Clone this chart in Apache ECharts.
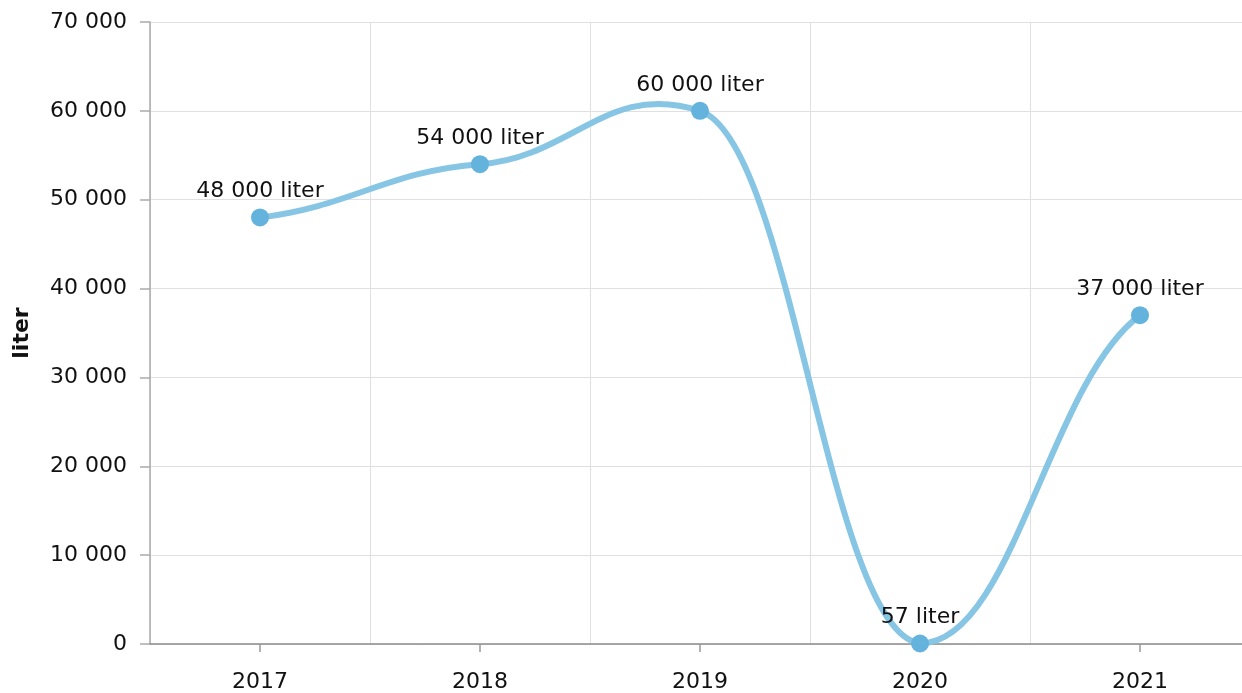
<!DOCTYPE html>
<html><head><meta charset="utf-8">
<script src="https://cdn.jsdelivr.net/npm/echarts@6/dist/echarts.min.js"></script>
<style>html,body{margin:0;padding:0;background:#fff}#c{width:1242px;height:693px}</style>
</head><body><div id="c"></div>
<script>
const categories = ['2017', '2018', '2019', '2020', '2021'];
const values = [48000, 54000, 60000, 57, 37000];
const yTicks = { min: 0, max: 70000, interval: 10000 };
const unit = 'liter';

function fmt(v) { return String(Math.round(v)).replace(/\B(?=(\d{3})+(?!\d))/g, ' '); }
const FONT = 'DejaVu Sans';
const LINE_COLOR = '#87c5e5';

// spline drawn through the axis scales (api.coord)
function renderSpline(params, api) {
  if (params.dataIndex !== 0) return null;
  const cs = params.coordSys;
  const top = cs.y, bottom = cs.y + cs.height;
  const pts = values.map((v, i) => api.coord([i, v]));
  const n = pts.length;
  const A = 0.42, C = 0.3, E = 0.5;
  const slope = pts.map((p, i) => {
    if (i === 0) return E * (pts[1][1] - p[1]) / (pts[1][0] - p[0]);
    if (i === n - 1) return E * (p[1] - pts[i - 1][1]) / (p[0] - pts[i - 1][0]);
    return C * (pts[i + 1][1] - pts[i - 1][1]) / (pts[i + 1][0] - pts[i - 1][0]);
  });
  const clampY = y => Math.max(top, Math.min(bottom, y));
  const children = [];
  for (let i = 0; i < n - 1; i++) {
    const p0 = pts[i], p1 = pts[i + 1];
    const dx = p1[0] - p0[0];
    children.push({
      type: 'bezierCurve',
      shape: {
        x1: p0[0], y1: p0[1], x2: p1[0], y2: p1[1],
        cpx1: p0[0] + A * dx, cpy1: clampY(p0[1] + A * dx * slope[i]),
        cpx2: p1[0] - A * dx, cpy2: clampY(p1[1] - A * dx * slope[i + 1])
      },
      style: { stroke: LINE_COLOR, lineWidth: 6, fill: null, lineCap: 'round' }
    });
  }
  return { type: 'group', children };
}

const chart = echarts.init(document.getElementById('c'), null, { renderer: 'canvas' });
chart.setOption({
  animation: false,
  grid: { left: 150, top: 22, width: 1100, height: 622, containLabel: false, outerBoundsMode: 'none' },
  xAxis: [{
    type: 'category', data: categories, boundaryGap: true,
    axisLine: { show: true, lineStyle: { color: '#8c8c8c', width: 1.5 } },
    axisTick: { show: false },
    axisLabel: { show: true, color: '#111', fontFamily: FONT, fontSize: 22, margin: 27 },
    splitLine: { show: true, lineStyle: { color: '#e0e0e0', width: 1 } }
  }, {
    type: 'category', data: categories, boundaryGap: true, position: 'bottom',
    axisLine: { show: false },
    axisTick: { show: true, alignWithLabel: true, length: 8, lineStyle: { color: '#999', width: 1.5 } },
    axisLabel: { show: false }, splitLine: { show: false }
  }],
  yAxis: {
    type: 'value', min: yTicks.min, max: yTicks.max, interval: yTicks.interval,
    name: unit, nameLocation: 'middle', nameGap: 117, nameRotate: 90,
    nameTextStyle: { fontFamily: FONT, fontSize: 22, fontWeight: 'bold', color: '#111' },
    axisLine: { show: true, lineStyle: { color: '#aaa', width: 1.5 } },
    axisTick: { show: true, inside: false, length: 10, lineStyle: { color: '#aaa', width: 1.5 } },
    axisLabel: { color: '#111', fontFamily: FONT, fontSize: 22, margin: 23, formatter: fmt },
    splitLine: { show: true, lineStyle: { color: '#e0e0e0', width: 1 } }
  },
  series: [{
    type: 'custom', xAxisIndex: 0, data: values.map((v, i) => [i, v]),
    renderItem: renderSpline, silent: true, z: 2,
    encode: { x: 0, y: 1 }
  }, {
    type: 'line', data: values, xAxisIndex: 0, z: 3,
    symbol: 'circle', symbolSize: 18,
    lineStyle: { width: 0, opacity: 0 },
    itemStyle: { color: '#63b3dc' },
    label: { show: true, position: 'top', distance: 6, color: '#111', fontFamily: FONT, fontSize: 22,
      formatter: p => fmt(p.value) + ' ' + unit }
  }]
});
</script></body></html>
